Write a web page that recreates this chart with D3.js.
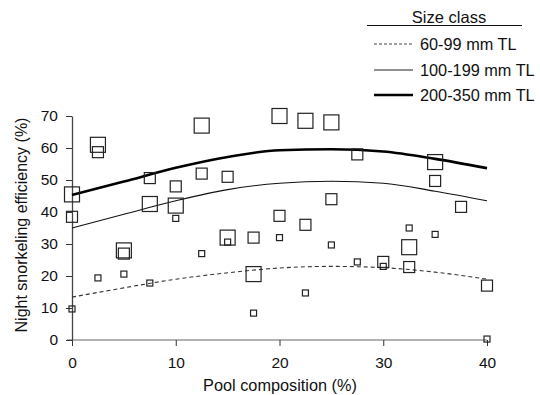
<!DOCTYPE html>
<html>
<head>
<meta charset="utf-8">
<script src="https://cdn.jsdelivr.net/npm/d3@7"></script>
<style>
  body { margin: 0; background: #fff; }
  text { font-family: "Liberation Sans", Arial, Helvetica, sans-serif; fill: #111; }
</style>
</head>
<body>
<svg id="chart" width="540" height="395"></svg>
<script>
// observed points, [pool %, efficiency %]
var small = [[0, 9.7], [2.5, 19.4], [5, 20.6], [7.5, 17.8], [10, 38], [12.5, 27], [15, 30.6],
  [17.5, 8.4], [20, 32], [22.5, 14.7], [25, 29.7], [27.5, 24.4], [30, 23], [32.5, 35],
  [35, 33], [40, 0.3]];
var medium = [[0, 38.5], [2.5, 58.7], [5, 27], [7.5, 50.6], [10, 48], [12.5, 52], [15, 51],
  [17.5, 32], [20, 38.8], [22.5, 36], [25, 44], [27.5, 58], [30, 24.4], [32.5, 22.8],
  [35, 49.7], [37.5, 41.6], [40, 17]];
var large = [[0, 45.5], [2.5, 61], [5, 28], [7.5, 42.5], [10, 42], [12.5, 67], [15, 32],
  [17.5, 20.6], [20, 70], [22.5, 68.5], [25, 68], [32.5, 29], [35, 55.6]];

// fitted curves
var curveX = [0, 5, 10, 15, 20, 25, 30, 35, 40];
var fitSmall = [13.4, 16.3, 19, 21, 22.5, 23, 22.6, 21.2, 19];
var fitMedium = [35, 39.3, 43.5, 47, 49, 49.6, 49, 46.5, 43.5];
var fitLarge = [45.3, 49.5, 53.8, 57.2, 59.3, 59.6, 58.9, 56.6, 53.7];

var xTicks = [0, 10, 20, 30, 40];
var yTicks = [0, 10, 20, 30, 40, 50, 60, 70];
var legendLabels = ["60-99 mm TL", "100-199 mm TL", "200-350 mm TL"];

var svg = d3.select("#chart");

var x = d3.scaleLinear().domain([0, 40]).range([72, 487]);
var y = d3.scaleLinear().domain([0, 70]).range([340, 116]);

// axes
var xAxis = svg.append("g")
  .attr("transform", "translate(0,340)")
  .call(d3.axisBottom(x).tickValues(xTicks).tickSize(6).tickPadding(11).tickSizeOuter(0));
xAxis.select(".domain").attr("stroke", "#999").attr("stroke-width", 1.5).attr("d", "M67,0H487");
xAxis.selectAll(".tick line").attr("stroke", "#333");
xAxis.selectAll(".tick text").attr("font-size", "15.5px").attr("fill", "#111");

var yAxis = svg.append("g")
  .attr("transform", "translate(72,0)")
  .call(d3.axisLeft(y).tickValues(yTicks).tickSize(6).tickPadding(8).tickSizeOuter(0));
yAxis.select(".domain").attr("stroke", "#444").attr("stroke-width", 1.3);
yAxis.selectAll(".tick line").attr("stroke", "#333");
yAxis.selectAll(".tick text").attr("font-size", "15.5px").attr("fill", "#111");

// axis titles
svg.append("text")
  .attr("x", 280).attr("y", 391)
  .attr("text-anchor", "middle")
  .attr("font-size", "16.3px")
  .text("Pool composition (%)");

svg.append("text")
  .attr("transform", "translate(27,225) rotate(-90)")
  .attr("text-anchor", "middle")
  .attr("font-size", "16px")
  .text("Night snorkeling efficiency (%)");

// curves
var line = d3.line()
  .x(function(d) { return x(d[0]); })
  .y(function(d) { return y(d[1]); })
  .curve(d3.curveMonotoneX);

function pairs(vals) {
  return curveX.map(function(v, i) { return [v, vals[i]]; });
}

svg.append("path").datum(pairs(fitSmall))
  .attr("d", line).attr("fill", "none")
  .attr("stroke", "#333").attr("stroke-width", 1.1).attr("stroke-dasharray", "4,3");
svg.append("path").datum(pairs(fitMedium))
  .attr("d", line).attr("fill", "none")
  .attr("stroke", "#111").attr("stroke-width", 1.1);
svg.append("path").datum(pairs(fitLarge))
  .attr("d", line).attr("fill", "none")
  .attr("stroke", "#000").attr("stroke-width", 2.6);

// squares
function squares(data, size) {
  svg.append("g").selectAll("rect")
    .data(data)
    .enter()
    .append("rect")
    .attr("x", function(d) { return x(d[0]) - size / 2; })
    .attr("y", function(d) { return y(d[1]) - size / 2; })
    .attr("width", size)
    .attr("height", size)
    .attr("fill", "none")
    .attr("stroke", "#222")
    .attr("stroke-width", 1.2);
}
squares(large, 15);
squares(medium, 11);
squares(small, 6);

// legend
var legend = svg.append("g");
legend.append("text")
  .attr("x", 449).attr("y", 23)
  .attr("text-anchor", "middle")
  .attr("font-size", "16.5px")
  .text("Size class");
legend.append("line")
  .attr("x1", 367).attr("x2", 522).attr("y1", 25.5).attr("y2", 25.5)
  .attr("stroke", "#111").attr("stroke-width", 1.2);

var styles = [
  { w: 1, dash: "3,2", c: "#444" },
  { w: 1, dash: null, c: "#222" },
  { w: 2.6, dash: null, c: "#000" }
];
var rowY = [44, 70, 95];

legendLabels.forEach(function(lab, i) {
  legend.append("line")
    .attr("x1", 374).attr("x2", 413)
    .attr("y1", rowY[i]).attr("y2", rowY[i])
    .attr("stroke", styles[i].c)
    .attr("stroke-width", styles[i].w)
    .attr("stroke-dasharray", styles[i].dash);
  legend.append("text")
    .attr("x", 420).attr("y", rowY[i])
    .attr("dy", "0.36em")
    .attr("font-size", "16.3px")
    .text(lab);
});
</script>
</body>
</html>
